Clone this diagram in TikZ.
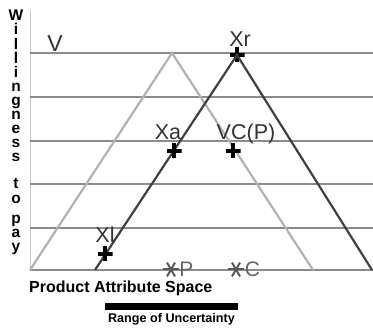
\documentclass[tikz,border=0pt]{standalone}
\usepackage{fontspec}
\setmainfont{Liberation Sans}
\usetikzlibrary{positioning, calc}

\begin{document}
\begin{tikzpicture}[
    x=1pt, y=-1pt,
    gridline/.style={draw=black!45, line width=1.3pt},
    paletent/.style={draw=black!30, line width=2.2pt},
    darktent/.style={draw=black!75, line width=2.2pt},
    plusmark/.style={minimum size=15pt, inner sep=0pt, path picture={
        \foreach \ang in {0,90}{\draw[black, line width=3.2pt] ($(path picture bounding box.center)+(\ang:7.5pt)$) -- ($(path picture bounding box.center)+(\ang+180:7.5pt)$);}}},
    starmark/.style={minimum size=17pt, inner sep=0pt, path picture={
        \foreach \ang in {0,60,120}{\draw[black!65, line width=2pt] ($(path picture bounding box.center)+(\ang:8pt)$) -- ($(path picture bounding box.center)+(\ang+180:8pt)$);}}},
    ptlabel/.style={font=\fontsize{21.5}{21.5}\selectfont, text=black!80, anchor=base, inner sep=0pt},
    spotlabel/.style={font=\fontsize{21}{21}\selectfont, text=black!60, inner sep=0pt},
    axislabel/.style={font=\fontsize{15.5}{14.1}\selectfont\bfseries, align=center, inner sep=0pt},
    axistitle/.style={font=\fontsize{16}{16}\selectfont\bfseries, inner sep=0pt}
]
\useasboundingbox (0,0) rectangle (373,328);
% grid and axis
\draw [black!20, line width=1pt] (30,10) -- (30,270);
\foreach \yy in {53,97,141,184,228,270}
    \draw [gridline] (30,\yy) -- (373,\yy);
% tents
\coordinate (paleL) at (30,270);
\coordinate (paleT) at (172,53);
\coordinate (paleR) at (313,270);
\coordinate (darkL) at (95,270);
\coordinate (darkR) at (372,270);
\node (xr) [plusmark] at (237,55) {};
\draw [paletent] (paleL) -- (paleT) -- (paleR);
\draw [darktent] (darkL) -- (xr.center) -- (darkR);
% marks on the tents
\node (xa) [plusmark] at (174,151) {};
\node (vc) [plusmark] at (233,151) {};
\node (xl) [plusmark] at (105,254) {};
\node (xrlabel) [ptlabel] at (240,47) {Xr};
\node (xalabel) [ptlabel] at (168,140) {Xa};
\node (vclabel) [ptlabel] at (246,140) {VC(P)};
\node (xllabel) [ptlabel] at (105,243) {Xl};
\node (vlabel) [ptlabel, font=\fontsize{23}{23}\selectfont] at (55,52) {V};
% P and C on the attribute line
\node (astP) [starmark] at (171,269.5) {};
\node (lblP) [spotlabel, right=-0.5pt of astP] {P};
\node (astC) [starmark] at (236,269.5) {};
\node (lblC) [spotlabel, right=0pt of astC] {C};
% axis titles
\node (wtp) [axislabel, anchor=north] at (16,10) {W\\i\\l\\l\\i\\n\\g\\n\\e\\s\\s\\[13pt]t\\o\\[6pt]p\\a\\y};
\node (attr) [axistitle, anchor=base west] at (29,293) {Product Attribute Space};
\node (range) [fill=black, inner sep=0pt, minimum width=133pt, minimum height=7pt] at (171.5,306.5) {};
\node (uncert) [axistitle, font=\fontsize{12.6}{12.6}\selectfont\bfseries, below=2.7pt of range] {Range of Uncertainty};
\end{tikzpicture}
\end{document}
